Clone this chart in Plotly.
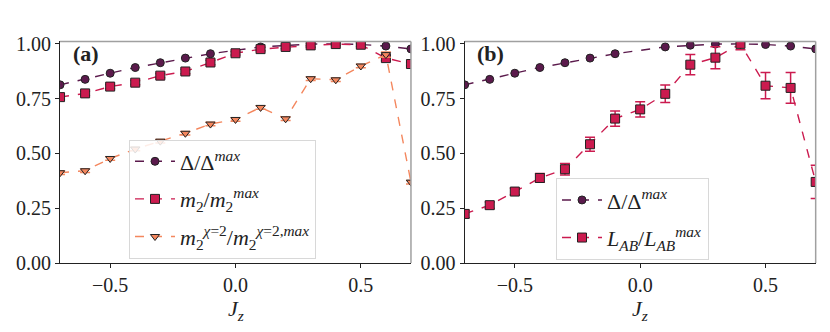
import plotly.graph_objects as go

# data
jz = [-0.7, -0.6, -0.5, -0.4, -0.3, -0.2, -0.1, 0.0, 0.1, 0.2, 0.3, 0.4, 0.5, 0.6, 0.7]
jz_gap = [-0.7, -0.6, -0.5, -0.4, -0.3, -0.2, -0.1, 0.1, 0.2, 0.3, 0.4, 0.5, 0.6, 0.7]

gap = [0.813, 0.838, 0.866, 0.892, 0.914, 0.935, 0.955,
       0.986, 0.994, 0.999, 1.0, 0.997, 0.990, 0.977]

m2 = [0.757, 0.774, 0.805, 0.823, 0.855, 0.874, 0.915, 0.957,
      0.976, 0.986, 0.993, 0.999, 0.996, 0.935, 0.908]
m2_err = [0.010, 0.010, 0.010, 0.010, 0.010, 0.010, 0.010, 0.008,
          0.008, 0.008, 0.008, 0.006, 0.008, 0.012, 0.008]

m2_chi2 = [0.412, 0.421, 0.477, 0.520, 0.556, 0.592, 0.634, 0.655,
           0.710, 0.658, 0.841, 0.836, 0.899, 0.951, 0.369]
m2_chi2_err = [0.008, 0.008, 0.008, 0.008, 0.008, 0.008, 0.008, 0.008,
               0.008, 0.008, 0.008, 0.008, 0.008, 0.012, 0.008]

lab = [0.224, 0.264, 0.326, 0.388, 0.428, 0.542, 0.659, 0.701,
       0.772, 0.905, 0.937, 1.0, 0.809, 0.799, 0.370]
lab_err = [0.017, 0.015, 0.015, 0.02, 0.026, 0.032, 0.035, 0.035,
           0.04, 0.046, 0.05, 0.027, 0.06, 0.07, 0.076]

c_gap = "#5b1a4c"
c_m2 = "#cb1b4f"
c_chi = "#f4875e"
font = "Liberation Serif"

fig = go.Figure()

def add(x, y, err, name, color, symbol, size, xa, ya, legend):
    fig.add_trace(go.Scatter(
        x=x, y=y, name=name, mode="lines+markers",
        xaxis=xa, yaxis=ya, legend=legend, legendgroup=name + xa,
        line=dict(color=color, width=1.4, dash="dash"),
        marker=dict(color=color, symbol=symbol, size=size,
                    line=dict(color="#222", width=1)),
        error_y=None if err is None else dict(type="data", array=err, color=color,
                                               thickness=1.5, width=5),
    ))

# panel (a)
add(jz_gap, gap, None, "Δ/Δ<sup><i>max</i></sup>", c_gap, "circle", 8, "x", "y", "legend")
add(jz, m2, m2_err, "<i>m</i><sub>2</sub>/<i>m</i><sub>2</sub><sup><i>max</i></sup>",
    c_m2, "square", 9, "x", "y", "legend")
add(jz, m2_chi2, m2_chi2_err,
    "<i>m</i><sub>2</sub><sup><i>χ</i>=2</sup>/<i>m</i><sub>2</sub><sup><i>χ</i>=2,<i>max</i></sup>",
    c_chi, "triangle-down", 8, "x", "y", "legend")

# panel (b)
add(jz_gap, gap, None, "Δ/Δ<sup><i>max</i></sup>", c_gap, "circle", 8, "x2", "y2", "legend2")
add(jz, lab, lab_err, "<i>L</i><sub><i>AB</i></sub>/<i>L</i><sub><i>AB</i></sub><sup><i>max</i></sup>",
    c_m2, "square", 9, "x2", "y2", "legend2")

ax = dict(range=[-0.7, 0.7], tickvals=[-0.5, 0, 0.5], tickformat=".1f",
          showgrid=False, zeroline=False, showline=True, linecolor="#222", linewidth=1.2,
          ticks="outside", ticklen=4, tickcolor="#222",
          tickfont=dict(family=font, size=20, color="#222"))
ay = dict(range=[0, 1.011], tickvals=[0, 0.25, 0.5, 0.75, 1.0], tickformat=".2f",
          showgrid=False, zeroline=False, showline=True, linecolor="#222", linewidth=1.2,
          ticks="outside", ticklen=4, tickcolor="#222",
          tickfont=dict(family=font, size=20, color="#222"))

leg = dict(font=dict(family=font, size=22, color="#222"), bgcolor="rgba(255,255,255,0.85)",
           bordercolor="#d8d8d8", borderwidth=1, xanchor="left", yanchor="top",
           traceorder="grouped", tracegroupgap=6, itemwidth=40)

fig.update_layout(
    width=830, height=332, margin=dict(l=0, r=0, t=0, b=0),
    plot_bgcolor="white", paper_bgcolor="white", showlegend=True,
    xaxis=dict(ax, domain=[0.0627, 0.4855], anchor="y"),
    yaxis=dict(ay, domain=[0.2108, 0.9187], anchor="x"),
    xaxis2=dict(ax, domain=[0.5502, 0.9731], anchor="y2"),
    yaxis2=dict(ay, domain=[0.2108, 0.9187], anchor="x2"),
    legend=dict(leg, x=121 / 830, y=1 - 131 / 332),
    legend2=dict(leg, x=548 / 830, y=1 - 172 / 332),
)

# gray top/right spines, panel labels and x titles
for xa, ya, tag in [("x", "y", "(a)"), ("x2", "y2", "(b)")]:
    xr, yr = xa + " domain", ya + " domain"
    fig.add_shape(type="line", xref=xr, yref=yr, x0=0, x1=1, y0=1, y1=1,
                  line=dict(color="#a0a0a0", width=1.5))
    fig.add_shape(type="line", xref=xr, yref=yr, x0=1, x1=1, y0=0, y1=1,
                  line=dict(color="#a0a0a0", width=1.5))
    fig.add_annotation(text="<b>" + tag + "</b>", xref=xr, yref=yr, x=0.03, y=0.945,
                       xanchor="left", yanchor="middle", showarrow=False,
                       font=dict(family=font, size=22, color="#222"))
    fig.add_annotation(text="<i>J</i><sub><i>z</i></sub>", xref=xr, yref="paper",
                       x=0.5, y=1 - 312 / 332, xanchor="center", yanchor="middle",
                       showarrow=False, font=dict(family=font, size=22, color="#222"))

fig.write_html("out.html")
